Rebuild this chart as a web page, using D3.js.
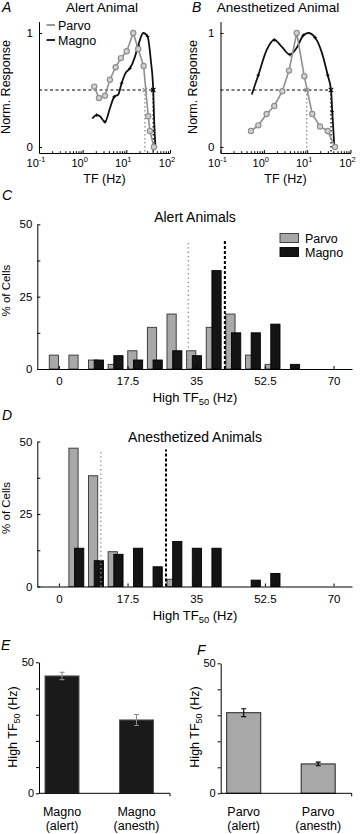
<!DOCTYPE html>
<html>
<head>
<meta charset="utf-8">
<script src="https://cdn.jsdelivr.net/npm/d3@7"></script>
<style>
  body { margin: 0; background: #fff; }
  svg { display: block; font-family: "Liberation Sans", Arial, Helvetica, sans-serif; }
</style>
</head>
<body>
<svg id="fig" width="360" height="834"></svg>
<script>
// ---- values ----

// A: alert animal, normalized TF tuning
const alertParvoTF   = [1.84, 2.36, 3.24, 4.21, 5.69, 7.52, 10.2, 14.4, 18.7, 24.9, 31.7, 34.7, 42.8];
const alertParvoResp = [0.53, 0.43, 0.45, 0.59, 0.70, 0.78, 0.84, 1.00, 0.86, 0.71, 0.27, 0.14, 0.00];
const alertMagnoTF   = [1.66, 2.09, 2.49, 3.24, 4.21, 5.28, 6.53, 7.8, 9.64, 12.1, 15.7, 18.7, 24.4, 30.7, 36.6, 41.3, 43.5, 46.4];
const alertMagnoResp = [0.25, 0.28, 0.27, 0.22, 0.34, 0.44, 0.46, 0.56, 0.65, 0.69, 0.79, 0.89, 1.00, 0.97, 0.75, 0.50, 0.22, 0.00];
const alertHalfMax   = [26.6, 41.3];   // parvo, magno

// B: anesthetized animal
const anesParvoTF   = [0.506, 0.745, 1.16, 1.74, 2.67, 3.81, 5.74, 8.59, 13.1, 19.8, 29.8, 43.9];
const anesParvoResp = [0.14, 0.19, 0.29, 0.36, 0.49, 0.67, 1.00, 0.62, 0.29, 0.18, 0.14, 0.00];
const anesMagnoTF   = [0.525, 0.745, 1.16, 1.74, 2.58, 4.02, 5.74, 8.15, 10.6, 15.2, 21.7, 29.8, 35.5, 38.0, 42.3];
const anesMagnoResp = [0.46, 0.63, 0.85, 0.94, 0.88, 0.81, 0.87, 0.98, 1.00, 0.96, 0.83, 0.63, 0.50, 0.31, 0.00];
const anesHalfMax   = [9.76, 35.5];

const tfDecades = [0.1, 1, 10, 100];
const tfExponents = ["-1", "0", "1", "2"];

// C, D: histograms of high TF50 (% of cells per 5 Hz bin)
const bins = [0, 5, 10, 15, 20, 25, 30, 35, 40, 45, 50, 55, 60, 65, 70];
const alertParvoPct = [4.8, 4.8, 3.1, 1.6, 6.3, 14.4, 19.0, 6.3, 14.4, 19.0, 4.8, 1.6, 0, 0, 0];
const alertMagnoPct = [0, 0, 3.1, 4.6, 3.1, 3.1, 6.3, 4.6, 34.0, 12.5, 12.5, 15.5, 1.6, 0, 0];
const anesParvoPct  = [0, 47.7, 38.2, 12.0, 0, 0, 2.5, 0, 0, 0, 0, 0, 0, 0, 0];
const anesMagnoPct  = [0, 13.2, 8.9, 11.1, 13.2, 6.8, 15.5, 13.2, 13.2, 0, 2.2, 4.5, 0, 0, 0];
const alertMeans = [33.0, 42.3];   // parvo (dotted), magno (dashed)
const anesMeans  = [10.7, 27.3];
const histTicks = [0, 17.5, 35, 52.5, 70];
const pctTicks = [0, 12.5, 25, 37.5, 50];

// E, F: mean high TF50
const magnoCats = [["Magno", "(alert)"], ["Magno", "(anesth)"]];
const magnoMean = [44.8, 28.0];
const magnoErr  = [1.4, 2.1];
const parvoCats = [["Parvo", "(alert)"], ["Parvo", "(anesth)"]];
const parvoMean = [31.0, 11.3];
const parvoErr  = [1.5, 0.7];

// ---- drawing ----
const svg = d3.select("#fig");
svg.append("rect").attr("width", 360).attr("height", 834).attr("fill", "#fff");

const GRAY = "#8f8f8f";
const BAR_GRAY = "#a8a8a8";

function letter(x, y, s) {
  svg.append("text").attr("x", x).attr("y", y).attr("font-size", 14)
    .attr("font-style", "italic").text(s);
}

function styleAxis(a, size) {
  a.attr("font-family", null).attr("font-size", size);
  a.selectAll("path, line").attr("stroke", "#000").attr("stroke-width", 1);
}

function drawTuning(xr, opts) {
  const g = svg.append("g");
  const x = d3.scaleLog().domain([0.1, 100]).range(xr);
  const y = d3.scaleLinear().domain([-0.0526, 1.1]).range([153, 21.6]);

  // axes
  const xa = g.append("g").attr("transform", "translate(0,153)")
    .call(d3.axisBottom(x).tickValues(tfDecades).tickSize(-3).tickSizeOuter(0).tickFormat(""));
  styleAxis(xa, 11);
  let minors = [];
  [0.1, 1, 10].forEach(d => { for (let k = 2; k < 10; k++) minors.push(d * k); });
  const xm = g.append("g").attr("transform", "translate(0,153)")
    .call(d3.axisBottom(x).tickValues(minors).tickSize(-1.8).tickFormat(""));
  xm.select(".domain").remove();
  styleAxis(xm, 11);

  const lab = g.selectAll(".dec").data(tfDecades).join("text")
    .attr("x", d => x(d) - 3).attr("y", 167).attr("text-anchor", "middle").attr("font-size", 11);
  lab.append("tspan").text("10");
  lab.append("tspan").attr("dy", -5).attr("font-size", 7.5).text((d, i) => tfExponents[i]);

  const ya = g.append("g").attr("transform", `translate(${xr[0]},0)`)
    .call(d3.axisLeft(y).tickValues([0, 1]).tickSize(-3).tickSizeOuter(0).tickPadding(6)
      .tickFormat(d3.format("d")));
  styleAxis(ya, 11.5);

  g.append("text").attr("x", (xr[0] + xr[1]) / 2).attr("y", 183).attr("text-anchor", "middle")
    .attr("font-size", 12.5).text("TF (Hz)");
  g.append("text").attr("transform", `translate(${opts.ylabX},87) rotate(-90)`)
    .attr("text-anchor", "middle").attr("font-size", 12.5).text("Norm. Response");
  g.append("text").attr("x", opts.titleX).attr("y", 12).attr("text-anchor", "middle")
    .attr("font-size", 13.5).text(opts.title);

  // half-max guides
  const hm = opts.halfMax;
  g.append("line").attr("x1", xr[0]).attr("x2", x(d3.max(hm))).attr("y1", y(0.5)).attr("y2", y(0.5))
    .attr("stroke", "#000").attr("stroke-dasharray", "3,2.5");
  g.append("line").attr("x1", x(hm[0])).attr("x2", x(hm[0])).attr("y1", y(0.5)).attr("y2", 153)
    .attr("stroke", GRAY).attr("stroke-width", 1.3).attr("stroke-dasharray", "1.5,2.5");
  g.append("line").attr("x1", x(hm[1])).attr("x2", x(hm[1])).attr("y1", y(0.5)).attr("y2", 153)
    .attr("stroke", "#000").attr("stroke-width", 1.3).attr("stroke-dasharray", "1.5,2.5");

  // magno (smooth fit)
  const magno = opts.magnoTF.map((t, i) => [t, opts.magnoResp[i]]);
  const parvo = opts.parvoTF.map((t, i) => [t, opts.parvoResp[i]]);
  const lineM = d3.line().x(d => x(d[0])).y(d => y(d[1])).curve(d3.curveMonotoneX);
  g.append("path").attr("d", lineM(magno)).attr("fill", "none").attr("stroke", "#111").attr("stroke-width", 1.8);
  g.selectAll(".mk").data(magno.filter((d, i) => i % 2 === 1)).join("path")
    .attr("d", d => `M${x(d[0]) - 1.8},${y(d[1])}h3.6M${x(d[0])},${y(d[1]) - 1.8}v3.6`)
    .attr("stroke", "#000").attr("stroke-width", 0.9);

  const lineP = d3.line().x(d => x(d[0])).y(d => y(d[1]));
  g.append("path").attr("d", lineP(parvo)).attr("fill", "none").attr("stroke", GRAY).attr("stroke-width", 1.6);
  g.selectAll(".pc").data(parvo).join("circle")
    .attr("cx", d => x(d[0])).attr("cy", d => y(d[1])).attr("r", 2.6)
    .attr("fill", "#d2d2d2").attr("stroke", GRAY).attr("stroke-width", 1.2);

  // x markers at half max
  [[hm[0], GRAY], [hm[1], "#000"]].forEach(([f, c]) => {
    const cx = x(f), cy = y(0.5);
    g.append("path").attr("d", `M${cx - 2.2},${cy - 2.2}L${cx + 2.2},${cy + 2.2}M${cx - 2.2},${cy + 2.2}L${cx + 2.2},${cy - 2.2}`)
      .attr("stroke", c).attr("stroke-width", 1.1);
  });

  if (opts.legend) {
    [["Parvo", GRAY, 25], ["Magno", "#111", 40]].forEach(([t, c, yy]) => {
      g.append("line").attr("x1", 46.5).attr("x2", 55).attr("y1", yy).attr("y2", yy)
        .attr("stroke", c).attr("stroke-width", 1.8);
      g.append("text").attr("x", 58).attr("y", yy + 4.5).attr("font-size", 12.5).text(t);
    });
  }
}

drawTuning([39, 170], {
  title: "Alert Animal", titleX: 102, legend: true, ylabX: 10,
  parvoTF: alertParvoTF, parvoResp: alertParvoResp,
  magnoTF: alertMagnoTF, magnoResp: alertMagnoResp, halfMax: alertHalfMax
});
drawTuning([220.5, 350.5], {
  title: "Anesthetized Animal", titleX: 278, legend: false, ylabX: 197,
  parvoTF: anesParvoTF, parvoResp: anesParvoResp,
  magnoTF: anesMagnoTF, magnoResp: anesMagnoResp, halfMax: anesHalfMax
});
letter(2, 12, "A");
letter(192, 12, "B");

function highTF(sel, size) {
  sel.append("tspan").text("High TF");
  sel.append("tspan").attr("font-size", size * 0.72).attr("dy", 3).text("50");
  sel.append("tspan").attr("dy", -3).text(" (Hz)");
}

function drawHist(y0, y50, opts) {
  const g = svg.append("g");
  const x = d3.scaleLinear().domain([-5.5, 74.7]).range([37.3, 352]);
  const y = d3.scaleLinear().domain([0, 50]).range([y0, y50]);

  // bars: parvo left of bin, magno overlapping on the right
  bins.forEach((b, i) => {
    const p = opts.parvo[i], m = opts.magno[i];
    if (p > 0) g.append("rect").attr("x", x(b - 2.45)).attr("width", x(b - 0.1) - x(b - 2.45))
      .attr("y", y(p)).attr("height", y(0) - y(p))
      .attr("fill", BAR_GRAY).attr("stroke", "#333").attr("stroke-width", 0.9);
    if (m > 0) g.append("rect").attr("x", x(b - 1.0)).attr("width", x(b + 1.35) - x(b - 1.0))
      .attr("y", y(m)).attr("height", y(0) - y(m))
      .attr("fill", "#141414").attr("stroke", "#000").attr("stroke-width", 0.9);
  });

  const xa = g.append("g").attr("transform", `translate(0,${y0})`)
    .call(d3.axisBottom(x).tickValues(histTicks).tickSize(-3).tickSizeOuter(0).tickPadding(8)
      .tickFormat(d => String(d)));
  styleAxis(xa, 11.5);
  const ya = g.append("g").attr("transform", "translate(37.3,0)")
    .call(d3.axisLeft(y).tickValues(pctTicks).tickSize(-3).tickSizeOuter(0).tickPadding(5)
      .tickFormat(d => d % 25 === 0 ? d : ""));
  styleAxis(ya, 11.5);

  // mean lines
  g.append("line").attr("x1", x(opts.means[0])).attr("x2", x(opts.means[0]))
    .attr("y1", y(0)).attr("y2", y(opts.lineTop)).attr("stroke", GRAY).attr("stroke-width", 1.4)
    .attr("stroke-dasharray", "1.3,3");
  g.append("line").attr("x1", x(opts.means[1])).attr("x2", x(opts.means[1]))
    .attr("y1", y(0)).attr("y2", y(opts.lineTop)).attr("stroke", "#000").attr("stroke-width", 2)
    .attr("stroke-dasharray", "3,2");

  g.append("text").attr("x", 195).attr("y", opts.titleY).attr("text-anchor", "middle")
    .attr("font-size", 14).text(opts.title);
  highTF(g.append("text").attr("x", 195).attr("y", y0 + 33).attr("text-anchor", "middle")
    .attr("font-size", 13), 13);
  g.append("text").attr("transform", `translate(10,${(y0 + y50) / 2 - 6}) rotate(-90)`)
    .attr("text-anchor", "middle").attr("font-size", 11.5).text("% of Cells");

  if (opts.legend) {
    [["Parvo", BAR_GRAY, "#333", 233.5], ["Magno", "#141414", "#000", 247.5]].forEach(([t, f, s, yy]) => {
      g.append("rect").attr("x", 280).attr("y", yy).attr("width", 18.5).attr("height", 9)
        .attr("fill", f).attr("stroke", s).attr("stroke-width", 0.9);
      g.append("text").attr("x", 305).attr("y", yy + 9.5).attr("font-size", 12.5).text(t);
    });
  }
}

drawHist(369, 224.3, {
  parvo: alertParvoPct, magno: alertMagnoPct, means: alertMeans, lineTop: 44.4,
  title: "Alert Animals", titleY: 222, legend: true
});
drawHist(586.5, 441.5, {
  parvo: anesParvoPct, magno: anesMagnoPct, means: anesMeans, lineTop: 47.2,
  title: "Anesthetized Animals", titleY: 441.5, legend: false
});
letter(2, 200, "C");
letter(2, 420, "D");

function drawMeans(x0, x1, y50, cats, mean, err, fill, stroke, errColor) {
  const g = svg.append("g");
  const x = d3.scalePoint().domain(d3.range(cats.length)).range([x0 + 23, x0 + 97.5]);
  const y = d3.scaleLinear().domain([0, 50]).range([793.3, y50]);
  const bw = 34;

  g.selectAll(".bar").data(mean).join("rect")
    .attr("x", (d, i) => x(i) - bw / 2).attr("width", bw)
    .attr("y", d => y(d)).attr("height", d => y(0) - y(d))
    .attr("fill", fill).attr("stroke", stroke).attr("stroke-width", 1);

  mean.forEach((m, i) => {
    const cx = x(i);
    g.append("path")
      .attr("d", `M${cx},${y(m + err[i])}V${y(m - err[i])}M${cx - 2.5},${y(m + err[i])}h5M${cx - 2.5},${y(m - err[i])}h5`)
      .attr("stroke", errColor).attr("stroke-width", 1.1).attr("fill", "none");
  });

  const ya = g.append("g").attr("transform", `translate(${x0},0)`)
    .call(d3.axisLeft(y).tickValues([0, 10, 20, 30, 40, 50]).tickSize(3).tickSizeOuter(0).tickPadding(2)
      .tickFormat(d => (d === 0 || d === 50) ? d : ""));
  styleAxis(ya, 11);
  g.append("line").attr("x1", x0).attr("x2", x1).attr("y1", y(0)).attr("y2", y(0)).attr("stroke", "#000");
  g.append("line").attr("x1", x1).attr("x2", x1).attr("y1", y(0)).attr("y2", y(0) + 3).attr("stroke", "#000");

  cats.forEach((c, i) => {
    const t = g.append("text").attr("text-anchor", "middle").attr("font-size", 12.5);
    t.append("tspan").attr("x", x(i)).attr("y", 815.5).text(c[0]);
    t.append("tspan").attr("x", x(i)).attr("y", 829.5).text(c[1]);
  });

  highTF(g.append("text").attr("transform", `translate(${x0 - 22},727) rotate(-90)`)
    .attr("text-anchor", "middle").attr("font-size", 12.5), 12.5);
}

drawMeans(39, 170, 662.3, magnoCats, magnoMean, magnoErr, "#1a1a1a", "#555", "#8a8a8a");
drawMeans(220.7, 351.7, 663.3, parvoCats, parvoMean, parvoErr, BAR_GRAY, "#222", "#000");
letter(1, 650, "E");
letter(197, 655, "F");
</script>
</body>
</html>
